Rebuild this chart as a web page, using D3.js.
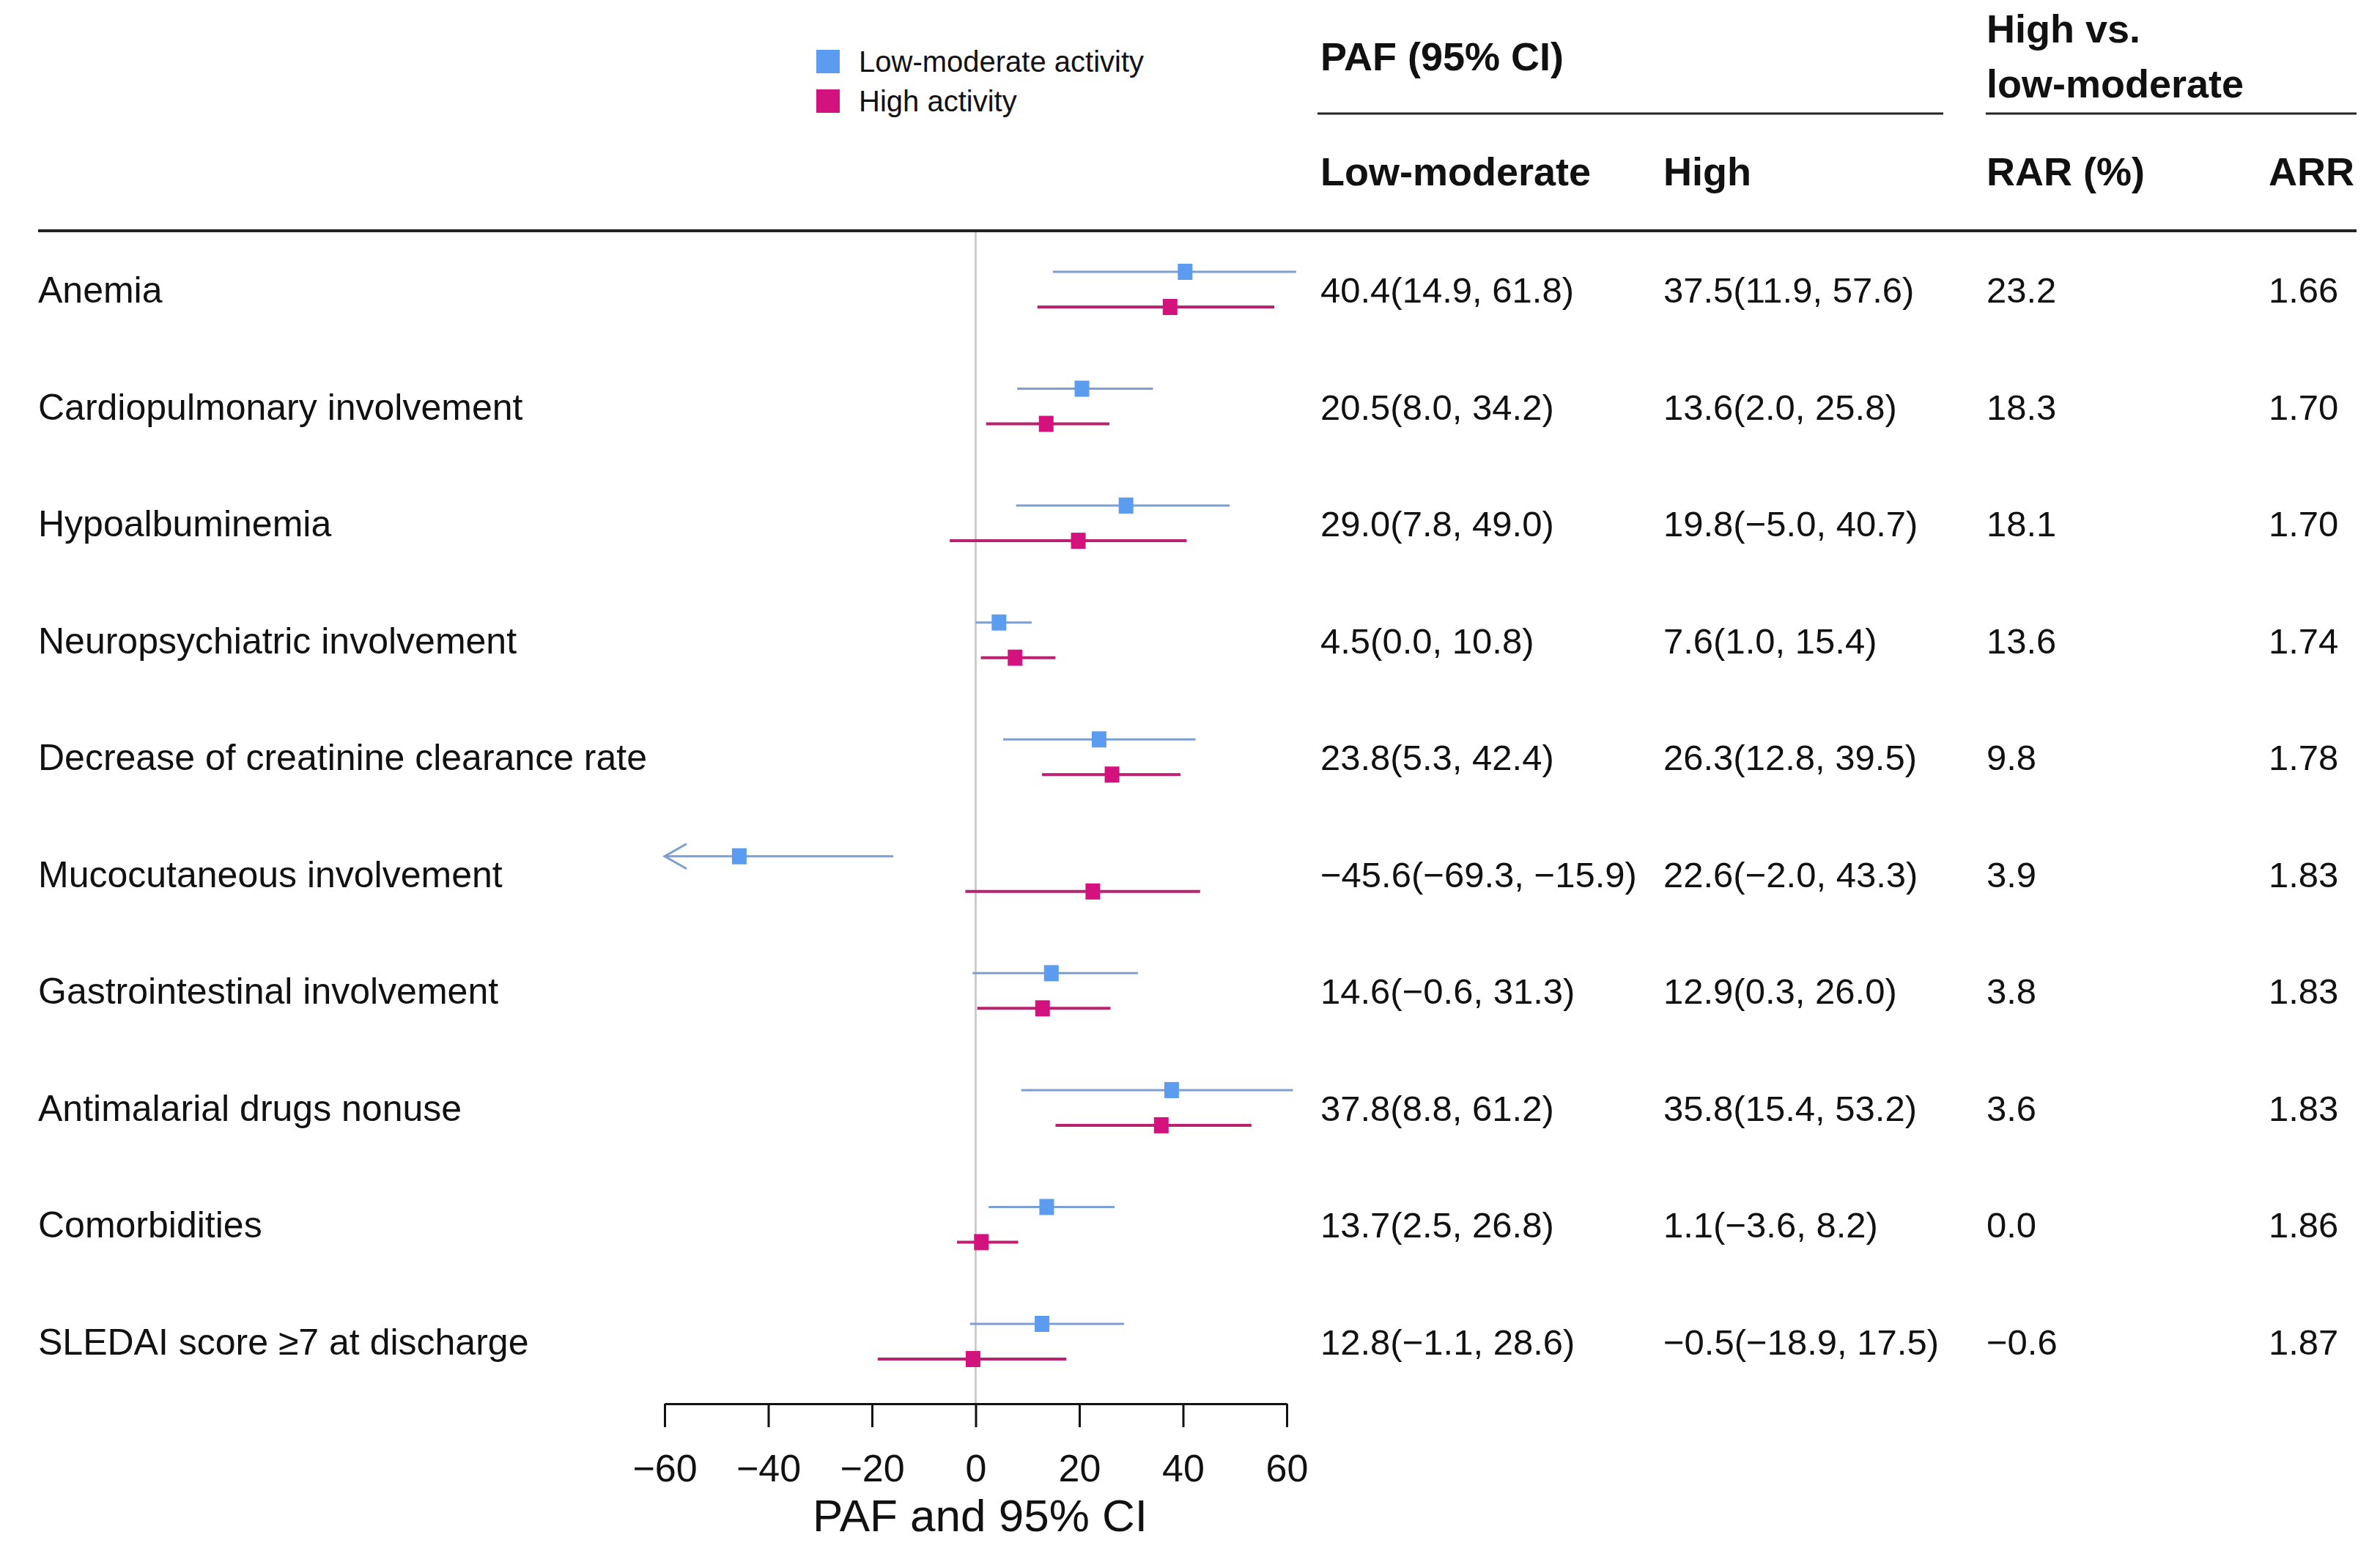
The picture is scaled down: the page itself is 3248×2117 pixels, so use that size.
<!DOCTYPE html>
<html>
<head>
<meta charset="utf-8">
<script src="https://cdn.jsdelivr.net/npm/d3@7"></script>
<style>
  body { margin: 0; background: #fff; }
  text { font-family: "Liberation Sans", Arial, sans-serif; fill: #111; }
</style>
</head>
<body>
<svg class="canvas"></svg>
<script>
// rows, top to bottom
const factors = [
    'Anemia',
    'Cardiopulmonary involvement',
    'Hypoalbuminemia',
    'Neuropsychiatric involvement',
    'Decrease of creatinine clearance rate',
    'Mucocutaneous involvement',
    'Gastrointestinal involvement',
    'Antimalarial drugs nonuse',
    'Comorbidities',
    'SLEDAI score \u22657 at discharge'
];

// [PAF, lower, upper]
const lowMod = [
    [40.4, 14.9, 61.8], [20.5, 8.0, 34.2], [29.0, 7.8, 49.0], [4.5, 0.0, 10.8],
    [23.8, 5.3, 42.4], [-45.6, -69.3, -15.9], [14.6, -0.6, 31.3], [37.8, 8.8, 61.2],
    [13.7, 2.5, 26.8], [12.8, -1.1, 28.6]
];
const high = [
    [37.5, 11.9, 57.6], [13.6, 2.0, 25.8], [19.8, -5.0, 40.7], [7.6, 1.0, 15.4],
    [26.3, 12.8, 39.5], [22.6, -2.0, 43.3], [12.9, 0.3, 26.0], [35.8, 15.4, 53.2],
    [1.1, -3.6, 8.2], [-0.5, -18.9, 17.5]
];
const rar = [23.2, 18.3, 18.1, 13.6, 9.8, 3.9, 3.8, 3.6, 0.0, -0.6];
const arr = [1.66, 1.70, 1.70, 1.74, 1.78, 1.83, 1.83, 1.83, 1.86, 1.87];

const xTicks = [-60, -40, -20, 0, 20, 40, 60];
const series = ['Low-moderate activity', 'High activity'];

const w = 3248;
const h = 2117;
const blue = '#5c9cf0';
const blueLine = '#7d9fd0';
const pink = '#d4127e';
const pinkLine = '#b8226f';

const svg = d3.select('svg.canvas')
    .attr('width', w)
    .attr('height', h);

const xScale = d3.scaleLinear().domain([-60, 60]).range([907, 1756]);
const yScale = d3.scaleLinear().domain([0, factors.length - 1]).range([395, 1831]);

const minus = s => s.replace(/-/g, '\u2212');
const fmt = v => minus(v.toFixed(1));
const ci = d => fmt(d[0]) + '(' + fmt(d[1]) + ', ' + fmt(d[2]) + ')';

// header rules
svg.append('line').attr('x1', 1798).attr('x2', 2652).attr('y1', 155).attr('y2', 155)
    .attr('stroke', '#222').attr('stroke-width', 3);
svg.append('line').attr('x1', 2710).attr('x2', 3216).attr('y1', 155).attr('y2', 155)
    .attr('stroke', '#222').attr('stroke-width', 3);
svg.append('line').attr('x1', 52).attr('x2', 3216).attr('y1', 315).attr('y2', 315)
    .attr('stroke', '#222').attr('stroke-width', 4);

// header text
let headers = [
    ['PAF (95% CI)', 1802, 96],
    ['High vs.', 2711, 58],
    ['low-moderate', 2711, 133],
    ['Low-moderate', 1802, 253],
    ['High', 2270, 253],
    ['RAR (%)', 2711, 253],
    ['ARR', 3096, 253]
];
svg.selectAll('text.head')
    .data(headers)
    .enter()
    .append('text')
    .attr('class', 'head')
    .attr('x', d => d[1])
    .attr('y', d => d[2])
    .attr('font-size', 54)
    .attr('font-weight', 'bold')
    .text(d => d[0]);

// legend
let legend = svg.selectAll('g.legend')
    .data(series)
    .enter()
    .append('g')
    .attr('class', 'legend')
    .attr('transform', (d, i) => 'translate(1114, ' + (68 + i * 54) + ')');
legend.append('rect')
    .attr('width', 32).attr('height', 32)
    .attr('fill', (d, i) => i === 0 ? blue : pink);
legend.append('text')
    .attr('x', 58).attr('y', 30)
    .attr('font-size', 40)
    .text(d => d);

// zero reference line
svg.append('line')
    .attr('x1', xScale(0)).attr('x2', xScale(0))
    .attr('y1', 317).attr('y2', 1916)
    .attr('stroke', '#c4c4c4').attr('stroke-width', 2.5);

// table text
let rowText = (cls, x, size, getter) => {
    svg.selectAll('text.' + cls)
        .data(factors)
        .enter()
        .append('text')
        .attr('class', cls)
        .attr('x', x)
        .attr('y', (d, i) => yScale(i) + 18)
        .attr('font-size', size)
        .text(getter);
};
rowText('label', 52, 50, d => d);
rowText('lm', 1802, 49, (d, i) => ci(lowMod[i]));
rowText('hi', 2270, 49, (d, i) => ci(high[i]));
rowText('rar', 2711, 49, (d, i) => fmt(rar[i]));
rowText('arr', 3096, 49, (d, i) => arr[i].toFixed(2));

// CI lines and points
let drawSeries = (values, offset, lineColor, pointColor, width) => {
    let g = svg.append('g');
    g.selectAll('line')
        .data(values)
        .enter()
        .append('line')
        .attr('x1', d => xScale(Math.max(d[1], -60)))
        .attr('x2', d => xScale(d[2]))
        .attr('y1', (d, i) => yScale(i) + offset)
        .attr('y2', (d, i) => yScale(i) + offset)
        .attr('stroke', lineColor)
        .attr('stroke-width', width);

    // arrow where the interval runs off the axis
    g.selectAll('path')
        .data(values.map((d, i) => [d, i]).filter(p => p[0][1] < -60))
        .enter()
        .append('path')
        .attr('d', p => {
            let x0 = xScale(-60), y0 = yScale(p[1]) + offset;
            return 'M' + (x0 + 30) + ',' + (y0 - 17) + 'L' + x0 + ',' + y0 + 'L' + (x0 + 30) + ',' + (y0 + 17);
        })
        .attr('fill', 'none')
        .attr('stroke', lineColor)
        .attr('stroke-width', width);

    g.selectAll('rect')
        .data(values)
        .enter()
        .append('rect')
        .attr('x', d => xScale(d[0]) - 10)
        .attr('y', (d, i) => yScale(i) + offset - 11)
        .attr('width', 20)
        .attr('height', 22)
        .attr('fill', pointColor);
};
drawSeries(lowMod, -24, blueLine, blue, 3);
drawSeries(high, 24, pinkLine, pink, 4);

// x axis
let xAxis = d3.axisBottom(xScale)
    .tickValues(xTicks)
    .tickSize(32)
    .tickSizeOuter(0)
    .tickPadding(37)
    .tickFormat(d => minus(String(d)));

let axisG = svg.append('g')
    .attr('transform', 'translate(0, 1916)')
    .call(xAxis);
axisG.select('.domain').attr('stroke', '#111').attr('stroke-width', 3);
axisG.selectAll('.tick line').attr('stroke', '#111').attr('stroke-width', 3);
axisG.selectAll('.tick text')
    .attr('font-size', 52)
    .attr('font-family', '"Liberation Sans", Arial, sans-serif')
    .attr('fill', '#111');

svg.append('text')
    .attr('x', xScale(0) + 6)
    .attr('y', 2090)
    .attr('text-anchor', 'middle')
    .attr('font-size', 62)
    .text('PAF and 95% CI');
</script>
</body>
</html>
